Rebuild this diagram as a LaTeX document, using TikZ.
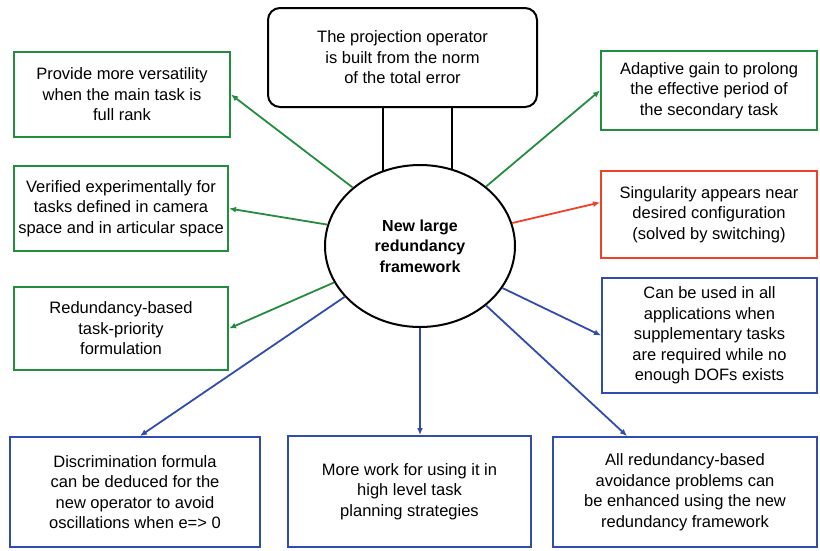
\documentclass[tikz,border=0pt]{standalone}
\usepackage{fontspec}
\setmainfont{Liberation Sans}
\usepackage{tikz}
\usetikzlibrary{
  arrows.meta,
  positioning,
  shapes.geometric
}
\definecolor{leafgreen}{RGB}{35, 140, 65}
\definecolor{alertred}{RGB}{240, 65, 40}
\definecolor{planblue}{RGB}{50, 75, 175}

\begin{document}
\begin{tikzpicture}[x=1pt, y=-1pt,
  textbox/.style={draw, line width=2pt, align=center, inner sep=2pt,
    font=\fontsize{16.5}{20.5}\selectfont},
  greenbox/.style={textbox, draw=leafgreen},
  redbox/.style={textbox, draw=alertred},
  bluebox/.style={textbox, draw=planblue},
  link/.style={line width=1.8pt, -{Latex[length=7pt, width=6pt]}}
]
  \useasboundingbox (0, 0) rectangle (820, 550);
  % ---------- CENTRE ----------
  \node[ellipse, draw, line width=2pt, fill=white, minimum width=190pt, minimum height=162pt,
    align=center, font=\fontsize{16}{20.5}\selectfont\bfseries] (core) at (420, 246)
    {New large\\ redundancy\\ framework};
  \node[textbox, draw=black, rounded corners=12pt, minimum width=269pt, minimum height=99pt]
    (norm) at (402.5, 57.5) {The projection operator\\ is built from the norm\\ of the total error};
  \coordinate (legL) at (383, 172);
  \coordinate (legR) at (452, 170);
  \draw[line width=2pt] (legL |- norm.south) -- (legL);
  \draw[line width=2pt] (legR |- norm.south) -- (legR);
  % ---------- LEFT COLUMN ----------
  \node[greenbox, minimum width=216pt, minimum height=85pt] (versatile) at (122, 94.5)
    {Provide more versatility\\ when the main task is\\ full rank};
  \node[greenbox, minimum width=214pt, minimum height=85pt] (verified) at (121, 208.5)
    {Verified experimentally for\\ tasks defined in camera\\ space and in articular space};
  \node[greenbox, minimum width=214pt, minimum height=83pt] (priority) at (121, 328.5)
    {Redundancy-based\\ task-priority\\ formulation};
  % ---------- RIGHT COLUMN ----------
  \node[greenbox, minimum width=216pt, minimum height=79pt] (gain) at (709, 90.5)
    {Adaptive gain to prolong\\ the effective period of\\ the secondary task};
  \node[redbox, minimum width=216pt, minimum height=87pt] (singular) at (709, 214.5)
    {Singularity appears near\\ desired configuration\\ (solved by switching)};
  \node[bluebox, minimum width=215pt, minimum height=115pt] (supply) at (709.5, 335.5)
    {Can be used in all\\ applications when\\ supplementary tasks\\ are required while no\\ enough DOFs exists};
  % ---------- BOTTOM ROW ----------
  \node[bluebox, minimum width=250pt, minimum height=110pt] (discrim) at (135, 492)
    {Discrimination formula\\ can be deduced for the\\ new operator to avoid\\ oscillations when e=> 0};
  \node[bluebox, minimum width=243pt, minimum height=111pt] (planning) at (409.5, 491.5)
    {More work for using it in\\ high level task\\ planning strategies};
  \node[bluebox, minimum width=264pt, minimum height=110pt] (avoid) at (685, 492)
    {All redundancy-based\\ avoidance problems can\\ be enhanced using the new\\ redundancy framework};
  % ---------- ARROWS ----------
  \draw[link, leafgreen] (core.139) -- (versatile.east);
  \draw[link, leafgreen] (core.167) -- (verified.east);
  \draw[link, leafgreen] (core.203) -- (priority.east);
  \draw[link, leafgreen] (core.42) -- (gain.west);
  \draw[link, alertred] (core.14) -- ([yshift=12pt]singular.west);
  \draw[link, planblue] (core.333) -- (supply.west);
  \draw[link, planblue] (core.214) -- ([xshift=5pt]discrim.north);
  \draw[link, planblue] (core.south) -- (core.south |- planning.north);
  \draw[link, planblue] (core.318) -- ([xshift=75pt]avoid.north west);
\end{tikzpicture}
\end{document}
